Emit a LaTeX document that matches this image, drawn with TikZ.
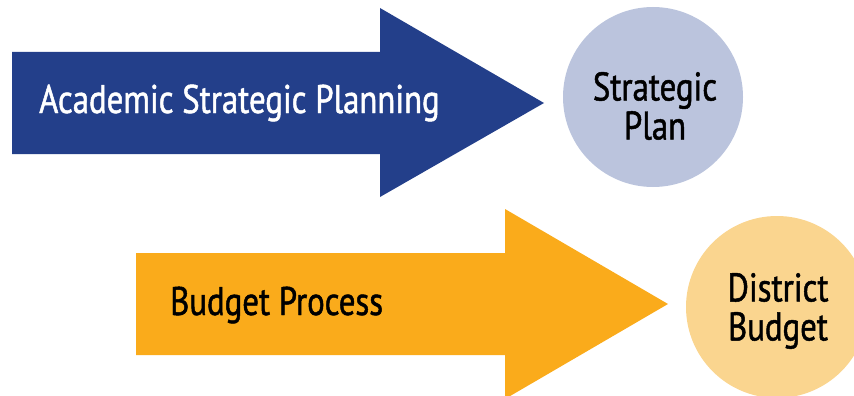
\documentclass[tikz,border=0pt]{standalone}
\usepackage{fontspec}
\setmainfont{PT Sans}[FakeStretch=0.82, FakeBold=1.2]
\usetikzlibrary{positioning}
\definecolor{planblue}{RGB}{35,63,138}
\definecolor{planlight}{RGB}{187,196,221}
\definecolor{budgetorange}{RGB}{250,171,27}
\definecolor{budgetlight}{RGB}{250,213,143}
\tikzset{
  bigarrow/.style={fill=#1, draw=none},
  goal/.style={circle, fill=#1, draw=none, inner sep=0pt},
  lbl/.style={font=\fontsize{40}{39}\selectfont, align=center, inner sep=0pt},
}

\begin{document}
\begin{tikzpicture}[x=1pt, y=-1pt]
  \useasboundingbox (0,0) rectangle (854,396);

  %% === Planning row (top) ===
  \fill[bigarrow=planblue] (12,52) -- (380,52) -- (380,8) -- (544,103)
    -- (380,197) -- (380,154) -- (12,154) -- cycle;
  \node[lbl, white, anchor=base west] (asp) at (39,113) {Academic Strategic Planning};

  \node[goal=planlight, minimum size=180pt] (plan) at (653,97) {};
  \node[lbl] (plantxt) at (655,106) {Strategic\\Plan};

  %% === Budget row (bottom) ===
  \fill[bigarrow=budgetorange] (136,253) -- (505,253) -- (505,209) -- (668,304)
    -- (505,399) -- (505,355) -- (136,355) -- cycle;
  \node[lbl, anchor=base west] (bp) at (170,315) {Budget Process};

  \node[goal=budgetlight, minimum size=182pt] (budget) at (777,307) {};
  \node[lbl] (budgettxt) at (778,311) {District\\Budget};
\end{tikzpicture}
\end{document}
